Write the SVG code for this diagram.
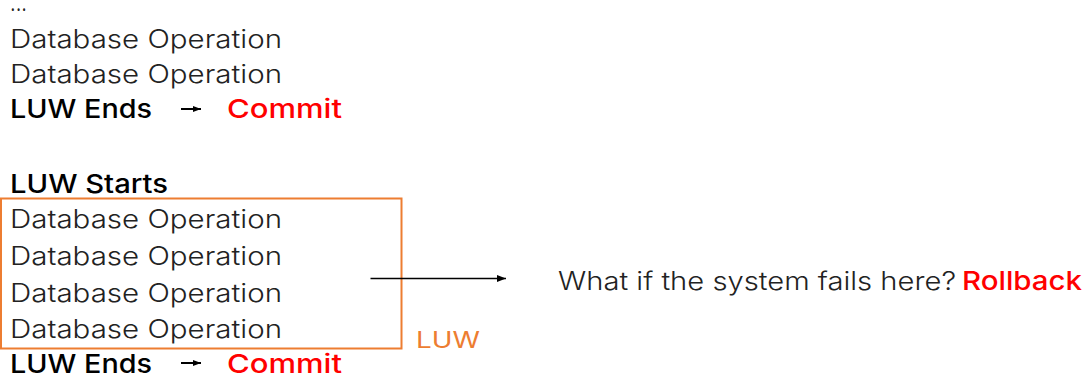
<svg xmlns="http://www.w3.org/2000/svg" width="1088" height="382" viewBox="0 0 1088 382">
<style>
text{font-family:Inter,"Liberation Sans",sans-serif}
.op{font-weight:300;font-size:25.5px;fill:#222}
.b{font-weight:500;font-size:26px;fill:#000}
.r{font-weight:500;font-size:26px;fill:#f00}
.o{font-weight:400;font-size:23px;fill:#ED7D31}
</style>
<defs>
<marker id="ah" markerWidth="9" markerHeight="7" refX="9" refY="3.5" orient="auto" markerUnits="userSpaceOnUse">
<path d="M0,0 L9,3.5 L0,7 z" fill="#000"/>
</marker>
<marker id="ahs" markerWidth="8" markerHeight="6" refX="8" refY="3" orient="auto" markerUnits="userSpaceOnUse">
<path d="M0,0 L8,3 L0,6 z" fill="#000"/>
</marker>
</defs>
<g id="top">
<text class="op" x="10" y="11" textLength="17" lengthAdjust="spacingAndGlyphs">...</text>
<text class="op" x="10" y="48" textLength="272" lengthAdjust="spacingAndGlyphs">Database Operation</text>
<text class="op" x="10" y="83" textLength="272" lengthAdjust="spacingAndGlyphs">Database Operation</text>
<text class="b" x="10" y="118" textLength="142" lengthAdjust="spacingAndGlyphs">LUW Ends</text>
<text class="r" x="227" y="118" textLength="115" lengthAdjust="spacingAndGlyphs">Commit</text>
</g>
<g id="bottom">
<text class="b" x="10" y="193" textLength="158" lengthAdjust="spacingAndGlyphs">LUW Starts</text>
<text class="op" x="10" y="228" textLength="272" lengthAdjust="spacingAndGlyphs">Database Operation</text>
<text class="op" x="10" y="265" textLength="272" lengthAdjust="spacingAndGlyphs">Database Operation</text>
<text class="op" x="10" y="302" textLength="272" lengthAdjust="spacingAndGlyphs">Database Operation</text>
<text class="op" x="10" y="338" textLength="272" lengthAdjust="spacingAndGlyphs">Database Operation</text>
<text class="b" x="10" y="373" textLength="142" lengthAdjust="spacingAndGlyphs">LUW Ends</text>
<text class="r" x="227" y="373" textLength="115" lengthAdjust="spacingAndGlyphs">Commit</text>
</g>
<g id="luw-box">
<rect x="1" y="198.5" width="400.5" height="150" fill="none" stroke="#ED7D31" stroke-width="2"/>
<text class="o" x="416" y="347.5" textLength="64" lengthAdjust="spacingAndGlyphs">LUW</text>
</g>
<g id="question">
<text class="op" x="558" y="290" textLength="398" lengthAdjust="spacingAndGlyphs">What if the system fails here?</text>
<text class="r" x="962" y="290" textLength="120" lengthAdjust="spacingAndGlyphs">Rollback</text>
</g>
<g id="connectors" stroke="#000" stroke-width="1.3" fill="none">
<line x1="181" y1="109" x2="201" y2="109" stroke-width="2" marker-end="url(#ahs)"/>
<line x1="181" y1="363" x2="201" y2="363" stroke-width="2" marker-end="url(#ahs)"/>
<line x1="370.5" y1="278.5" x2="506" y2="278.5" marker-end="url(#ah)"/>
</g>
</svg>
